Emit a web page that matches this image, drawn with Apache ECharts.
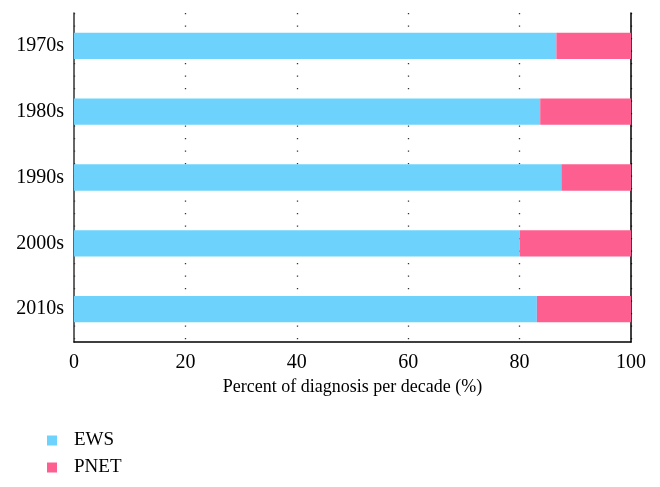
<!DOCTYPE html>
<html>
<head>
<meta charset="utf-8">
<script src="https://cdn.jsdelivr.net/npm/echarts@6/dist/echarts.min.js"></script>
<style>html,body{margin:0;padding:0;background:#fff}#c{width:660px;height:487px}</style>
</head>
<body>
<div id="c"></div>
<script>
const categories = ['1970s', '1980s', '1990s', '2000s', '2010s'];
const ews = [86.6, 83.7, 87.5, 80.0, 83.1];
const pnet = [13.4, 16.3, 12.5, 20.0, 16.9];
const xTicks = [0, 20, 40, 60, 80, 100];
const seriesNames = ['EWS', 'PNET'];
const xName = 'Percent of diagnosis per decade (%)';

const font = 'Liberation Serif';
const legendBase = {
  orient: 'vertical', left: 42,
  itemWidth: 10, itemHeight: 10, itemGap: 10,
  icon: 'rect',
  textStyle: {fontFamily: font, fontSize: 19, color: '#000', padding: [0, 0, 0, 12]}
};
const chart = echarts.init(document.getElementById('c'), null, {renderer: 'canvas'});
chart.setOption({
  animation: false,
  textStyle: {fontFamily: font},
  grid: {left: 74, right: 29, top: 13, bottom: 145},
  legend: [
    Object.assign({}, legendBase, {top: 426, data: [seriesNames[0]]}),
    Object.assign({}, legendBase, {top: 453, data: [seriesNames[1]]})
  ],
  xAxis: {
    type: 'value', min: xTicks[0], max: xTicks[xTicks.length - 1], interval: 20,
    name: xName, nameLocation: 'middle', nameGap: 35,
    nameTextStyle: {fontFamily: font, fontSize: 18, color: '#000'},
    axisLine: {show: true, lineStyle: {color: '#000', width: 1.5}},
    axisTick: {show: false},
    axisLabel: {fontFamily: font, fontSize: 20, color: '#000', margin: 11},
    splitLine: {show: true, lineStyle: {color: '#333', width: 1.3, type: [1.3, 11.2]}}
  },
  yAxis: [{
    type: 'category', data: categories, inverse: true,
    axisLine: {show: true, lineStyle: {color: '#333', width: 1.5}},
    axisTick: {show: false},
    axisLabel: {fontFamily: font, fontSize: 20, color: '#000', margin: 10}
  }, {
    type: 'category', data: categories, inverse: true, position: 'right',
    axisLine: {show: true, lineStyle: {color: '#000', width: 1.5}},
    axisTick: {show: false}, axisLabel: {show: false}
  }],
  series: [{
    name: seriesNames[0], type: 'bar', stack: 's', data: ews, barWidth: '40%',
    itemStyle: {color: '#6dd3fd'}
  }, {
    name: seriesNames[1], type: 'bar', stack: 's', data: pnet, barWidth: '40%',
    itemStyle: {color: '#fd6090'}
  }]
});
</script>
</body>
</html>
